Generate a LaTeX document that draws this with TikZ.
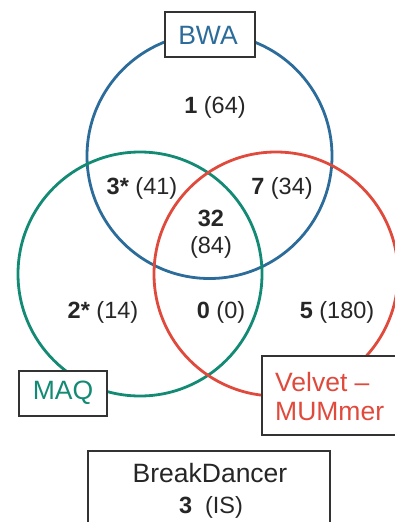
\documentclass[tikz,border=0pt]{standalone}
\usepackage{fontspec}
\setmainfont{Liberation Sans}
\definecolor{bwablue}{HTML}{2C6C9A}
\definecolor{maqgreen}{HTML}{138A74}
\definecolor{velred}{HTML}{E04A3C}
\definecolor{boxgray}{HTML}{333333}
\begin{document}
\begin{tikzpicture}[x=1pt,y=-1pt,
  venn/.style={line width=2.8pt},
  lbox/.style={draw=boxgray,line width=1.6pt,fill=white},
  num/.style={font=\fontsize{23.5}{27}\selectfont,text=black!85},
  lab/.style={font=\fontsize{26.5}{29}\selectfont}]
\useasboundingbox (0,0) rectangle (395,522);
\begin{scope}
\clip (0,0) rectangle (395,522);
\draw[venn,draw=bwablue] (209.5,156) circle (122.5);
\draw[venn,draw=maqgreen] (140,274) circle (122);
\draw[venn,draw=velred] (276,274) circle (122);
% boxes
\node[lbox,minimum width=90pt,minimum height=45pt] (bwa) at (210,34.5) {};
\node[lab,text=bwablue] (bwat) at (208,35) {BWA};
\node[lbox,minimum width=88pt,minimum height=45pt] (maq) at (63,393.5) {};
\node[lab,text=maqgreen] (maqt) at (63,393) {MAQ};
\draw[lbox] (262,356) rectangle (402,435);
\node[lab,text=velred,anchor=west,align=left,inner sep=0pt] (vel) at (275,397) {Velvet --\\MUMmer};
\draw[lbox] (88,451) rectangle (330,532);
\node[lab,text=black!85,anchor=center] (bd) at (210,473) {BreakDancer};
\node[num] (bd3) at (211,507) {\textbf{3}\ \ (IS)};
% numbers
\node[num] (n1) at (215,107) {\textbf{1} (64)};
\node[num] (n3) at (142,188) {\textbf{3*} (41)};
\node[num] (n7) at (282,188) {\textbf{7} (34)};
\node[num] (n32) at (211,218) {\textbf{32}};
\node[num] (n84) at (211,247) {(84)};
\node[num] (n2) at (103,312) {\textbf{2*} (14)};
\node[num] (n0) at (221,312) {\textbf{0} (0)};
\node[num] (n5) at (337,312) {\textbf{5} (180)};
\end{scope}
\end{tikzpicture}
\end{document}
